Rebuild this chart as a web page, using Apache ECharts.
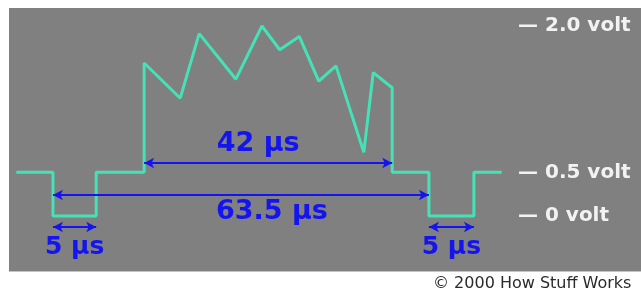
<!DOCTYPE html>
<html>
<head>
<meta charset="utf-8">
<script src="https://cdn.jsdelivr.net/npm/echarts@6/dist/echarts.min.js"></script>
<style>
  html, body { margin: 0; padding: 0; background: #fff; }
  #main { width: 641px; height: 292px; }
</style>
</head>
<body>
<div id="main"></div>
<script>
// one scan line of the video signal, time in µs from the start of the sync pulse
var timeUs = [-6.2, 0, 0, 7.3, 7.3, 15.4, 15.4, 21.5, 24.7, 30.9, 35.3, 38.3, 41.6, 44.9, 47.8, 52.5, 54.1, 57.3, 57.3, 63.5, 63.5, 71.1, 71.1, 75.8];
var volts = [0.46, 0.46, 0, 0, 0.46, 0.46, 1.61, 1.24, 1.92, 1.44, 2.0, 1.75, 1.89, 1.42, 1.58, 0.67, 1.51, 1.35, 0.46, 0.46, 0, 0, 0.46, 0.46];

// level marks on the right (blanking level as drawn sits at 0.46 on the picture's scale)
var levelValues = [0, 0.46, 2.0];
var levelTexts = ['0 volt', '0.5 volt', '2.0 volt'];

// spans marked with arrows: [start µs, end µs, label]
var spanLine = [15.4, 57.3, '42 µs'];
var spanTotal = [0, 63.5, '63.5 µs'];
var spanSyncA = [0, 7.3, '5 µs'];
var spanSyncB = [63.5, 71.1, '5 µs'];

var points = timeUs.map(function (t, i) { return [t, volts[i]]; });

var blue = '#1414f0';

function span(s, y, pos, size, off) {
    return [
        {
            coord: [s[0], y],
            label: {
                show: true,
                position: pos,
                formatter: s[2],
                color: blue,
                fontFamily: 'DejaVu Sans',
                fontWeight: 'bold',
                fontSize: size,
                distance: 3,
                offset: off
            }
        },
        { coord: [s[1], y] }
    ];
}

var chart = echarts.init(document.getElementById('main'));

var option = {
    animation: false,
    graphic: [
        { type: 'rect', z: -10, shape: { x: 9, y: 8, width: 632, height: 263 }, style: { fill: '#808080' } },
        { type: 'rect', z: -10, shape: { x: 9, y: 271, width: 632, height: 1 }, style: { fill: '#c4c4c4' } },
        {
            type: 'text', left: 433, top: 276,
            style: { text: '© 2000 How Stuff Works', fill: '#2a2a2a', font: '16px "DejaVu Sans"' }
        }
    ],
    // 5.92 px per µs, 95 px per volt
    grid: { left: 5.6, top: 26, width: 521, height: 218.5 },
    xAxis: {
        type: 'value', min: -8, max: 80,
        axisLine: { show: false }, axisTick: { show: false },
        axisLabel: { show: false }, splitLine: { show: false }
    },
    yAxis: {
        type: 'value', min: -0.3, max: 2, position: 'right',
        axisLine: { show: false }, axisTick: { show: false }, splitLine: { show: false },
        axisLabel: {
            customValues: levelValues,
            margin: -8.6,
            color: '#f2f2f2',
            fontFamily: 'DejaVu Sans',
            fontWeight: 'bold',
            fontSize: 20,
            formatter: function (v) {
                var i = levelValues.indexOf(v);
                return '— ' + (i >= 0 ? levelTexts[i] : v);
            }
        }
    },
    series: [{
        type: 'line',
        data: points,
        showSymbol: false,
        lineStyle: { color: '#44e2b6', width: 3 },
        markLine: {
            silent: true,
            symbol: ['arrow', 'arrow'],
            symbolSize: [8, 10],
            lineStyle: { color: blue, width: 2, type: 'solid' },
            data: [
                span(spanLine, 0.558, 'insideMiddleTop', 27, [-10, -3]),
                span(spanTotal, 0.221, 'insideMiddleBottom', 27, [31, 0]),
                span(spanSyncA, -0.116, 'insideMiddleBottom', 25, [0, 5]),
                span(spanSyncB, -0.116, 'insideMiddleBottom', 25, [0, 5])
            ]
        }
    }]
};

chart.setOption(option);
</script>
</body>
</html>
